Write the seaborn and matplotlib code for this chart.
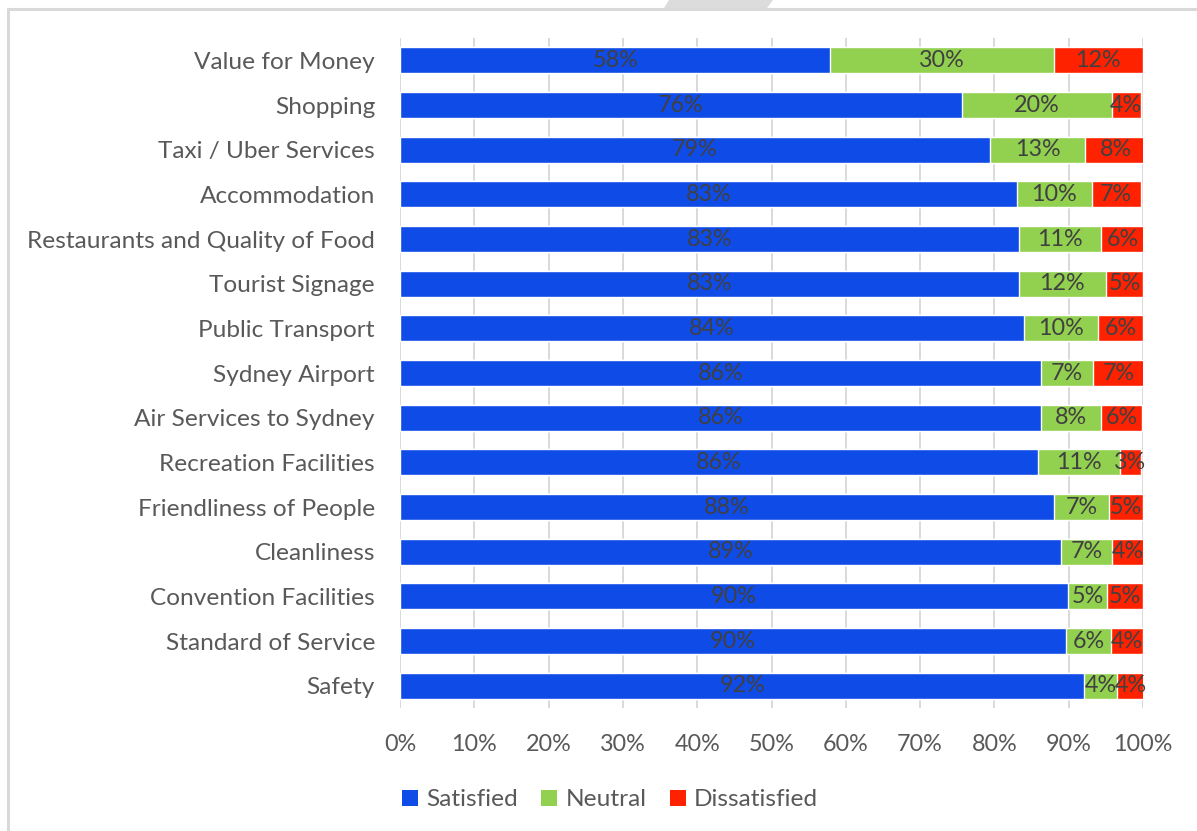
import matplotlib
matplotlib.use("Agg")
import matplotlib.pyplot as plt
import seaborn as sns
import pandas as pd
from matplotlib.patches import Patch, Polygon
from matplotlib.lines import Line2D

categories = [
    "Value for Money", "Shopping", "Taxi / Uber Services", "Accommodation",
    "Restaurants and Quality of Food", "Tourist Signage", "Public Transport",
    "Sydney Airport", "Air Services to Sydney", "Recreation Facilities",
    "Friendliness of People", "Cleanliness", "Convention Facilities",
    "Standard of Service", "Safety",
]
satisfied = [57.9, 75.6, 79.4, 83.0, 83.3, 83.3, 84.0, 86.3, 86.3, 85.9, 88.0, 89.0, 89.9, 89.6, 92.1]
neutral = [30.1, 20.2, 12.8, 10.1, 11.0, 11.7, 9.9, 7.0, 8.0, 11.0, 7.4, 6.8, 5.3, 6.1, 4.4]
dissatisfied = [12.0, 3.9, 8.2, 6.6, 6.0, 5.0, 6.1, 7.0, 5.6, 2.8, 4.6, 4.3, 4.8, 4.3, 3.8]
series_names = ["Satisfied", "Neutral", "Dissatisfied"]
x_ticks = [0, 10, 20, 30, 40, 50, 60, 70, 80, 90, 100]

colors = ["#0f4be6", "#92d050", "#ff2200"]
text_gray = "#595959"
label_gray = "#404040"
grid_gray = "#d9d9d9"

sns.set_theme(style="white")
plt.rcParams['font.family'] = ['Lato', 'DejaVu Sans']

fig = plt.figure(figsize=(11.97, 8.31), dpi=100)
W, H = 1197, 831
ax = fig.add_axes([400 / W, 1 - 708 / H, 743 / W, 670 / H])

df = pd.DataFrame({
    "category": categories,
    "Satisfied": satisfied,
    "Neutral": neutral,
    "Dissatisfied": dissatisfied,
})
df["cum1"] = df["Satisfied"]
df["cum2"] = df["cum1"] + df["Neutral"]
df["cum3"] = df["cum2"] + df["Dissatisfied"]

for col, color in [("cum3", colors[2]), ("cum2", colors[1]), ("cum1", colors[0])]:
    sns.barplot(data=df, x=col, y="category", orient="h", color=color,
                saturation=1, width=0.58, order=categories, ax=ax, errorbar=None)

fs_num = 16.8
fs_txt = 17.6
for i, row in df.iterrows():
    starts = [0, row["cum1"], row["cum2"]]
    vals = [row["Satisfied"], row["Neutral"], row["Dissatisfied"]]
    for s, v in zip(starts, vals):
        ax.text(s + v / 2, i, f"{round(v):.0f}%", ha="center", va="center",
                color=label_gray, fontsize=fs_num)

ax.set_xlim(0, 100)
ax.set_ylim(len(categories) - 0.5, -0.5)
ax.set_xticks(x_ticks)
ax.set_xticklabels([f"{t}%" for t in x_ticks])
ax.set_xlabel("")
ax.set_ylabel("")
ax.grid(axis="x", color=grid_gray, linewidth=1.4)
ax.grid(axis="y", visible=False)
ax.set_axisbelow(True)
for sp in ax.spines.values():
    sp.set_visible(False)
ax.tick_params(axis="x", length=0, pad=19, labelsize=fs_num, labelcolor=text_gray)
ax.tick_params(axis="y", length=0, pad=18, labelsize=fs_txt, labelcolor=text_gray)

handles = [Patch(facecolor=c, edgecolor="none", label=n) for c, n in zip(colors, series_names)]
fig.legend(handles=handles, loc="center", bbox_to_anchor=(610 / W, 1 - 800 / H), ncol=3,
           frameon=False, fontsize=fs_txt, labelcolor=text_gray, handlelength=0.65,
           handleheight=0.65, handletextpad=0.35, columnspacing=0.95)

# chart border and tab shape
fig.add_artist(Line2D([8 / W, 1], [1 - 8.5 / H, 1 - 8.5 / H], color=grid_gray, linewidth=2.2))
fig.add_artist(Line2D([7.5 / W, 7.5 / W], [0, 1 - 8.5 / H], color=grid_gray, linewidth=2.2))
fig.add_artist(Polygon([(669 / W, 1), (773 / W, 1), (767 / W, 1 - 8 / H), (664 / W, 1 - 8 / H)],
                       closed=True, facecolor="#dcdcdc", edgecolor="none", transform=fig.transFigure))

fig.savefig("out.png", dpi=100)
